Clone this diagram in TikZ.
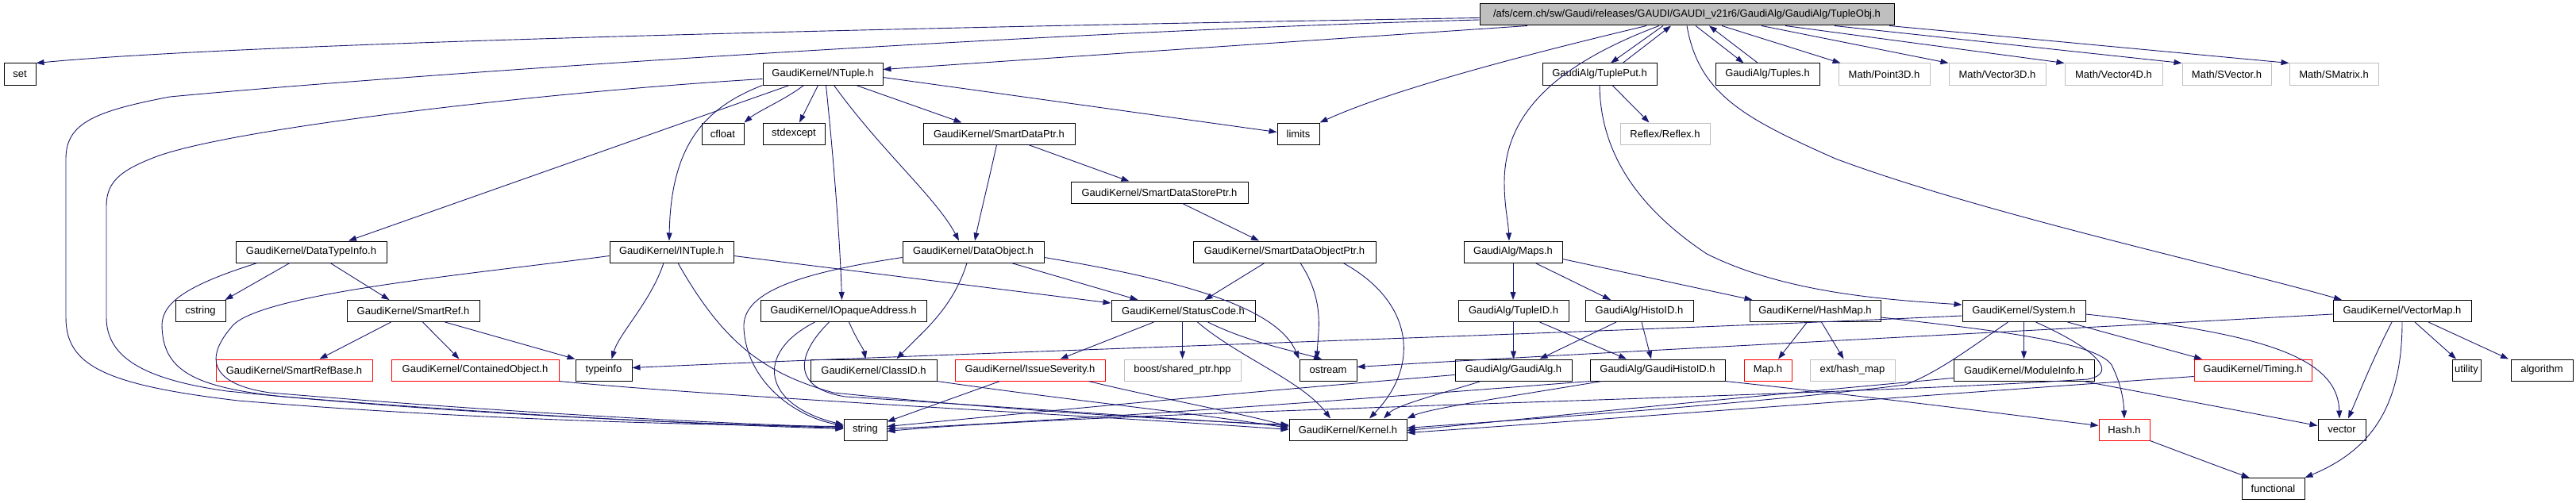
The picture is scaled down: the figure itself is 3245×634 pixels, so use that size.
\documentclass[tikz,border=0pt]{standalone}
\usepackage{fontspec}
\setmainfont{Liberation Sans}
\usetikzlibrary{arrows.meta}
\definecolor{edgec}{HTML}{191970}
\definecolor{greyb}{HTML}{BFBFBF}
\tikzset{
  nd/.style={draw=black, rectangle, minimum height=27pt, inner sep=0pt, line width=1pt, font=\fontsize{13}{15}\selectfont},
  ndred/.style={nd, draw=red},
  ndgrey/.style={nd, draw=greyb},
  e/.style={draw=edgec, line width=0.9pt, -{Triangle[length=10pt,width=7pt]}, fill=none}
}
\begin{document}
\begin{tikzpicture}[x=1pt,y=-1pt]
\useasboundingbox (0,0) rectangle (3245,634);
% row 1
\node[nd, fill=greyb, minimum width=522pt] (root) at (2125,18.5) {/afs/cern.ch/sw/Gaudi/releases/GAUDI/GAUDI\_v21r6/GaudiAlg/GaudiAlg/TupleObj.h};
% row 2
\node[nd, minimum width=40pt] (set) at (25,93.5) {set};
\node[nd, minimum width=151pt] (NTuple) at (1036.5,93.5) {GaudiKernel/NTuple.h};
\node[nd, minimum width=144pt] (TuplePut) at (2015,93.5) {GaudiAlg/TuplePut.h};
\node[nd, minimum width=131pt] (Tuples) at (2226.5,93.5) {GaudiAlg/Tuples.h};
\node[ndgrey, minimum width=115pt] (Point3D) at (2373.5,93.5) {Math/Point3D.h};
\node[ndgrey, minimum width=122pt] (Vector3D) at (2516,93.5) {Math/Vector3D.h};
\node[ndgrey, minimum width=123pt] (Vector4D) at (2662.5,93.5) {Math/Vector4D.h};
\node[ndgrey, minimum width=112pt] (SVector) at (2805,93.5) {Math/SVector.h};
\node[ndgrey, minimum width=112pt] (SMatrix) at (2940,93.5) {Math/SMatrix.h};
% row 3
\node[nd, minimum width=53pt] (cfloat) at (910.5,168.5) {cfloat};
\node[nd, minimum width=78pt] (stdexcept) at (1000,168.5) {stdexcept};
\node[nd, minimum width=191pt] (SmartDataPtr) at (1258.5,168.5) {GaudiKernel/SmartDataPtr.h};
\node[nd, minimum width=53pt] (limits) at (1635.5,168.5) {limits};
\node[ndgrey, minimum width=113pt] (Reflex) at (2097.5,168.5) {Reflex/Reflex.h};
\node[nd, minimum width=223pt] (SDSP) at (1460.5,242.5) {GaudiKernel/SmartDataStorePtr.h};
% row 4
\node[nd, minimum width=190pt] (DataTypeInfo) at (392,317.5) {GaudiKernel/DataTypeInfo.h};
\node[nd, minimum width=156pt] (INTuple) at (846,317.5) {GaudiKernel/INTuple.h};
\node[nd, minimum width=178pt] (DataObject) at (1226,317.5) {GaudiKernel/DataObject.h};
\node[nd, minimum width=230pt] (SDOP) at (1618,317.5) {GaudiKernel/SmartDataObjectPtr.h};
\node[nd, minimum width=124pt] (Maps) at (1906,317.5) {GaudiAlg/Maps.h};
% row 5
\node[nd, minimum width=63pt] (cstring) at (252.5,392) {cstring};
\node[nd, minimum width=167pt] (SmartRef) at (520.5,392) {GaudiKernel/SmartRef.h};
\node[nd, minimum width=209pt] (IOpaque) at (1062.5,392) {GaudiKernel/IOpaqueAddress.h};
\node[nd, minimum width=181pt] (StatusCode) at (1490.5,392) {GaudiKernel/StatusCode.h};
\node[nd, minimum width=139pt] (TupleID) at (1906.5,392) {GaudiAlg/TupleID.h};
\node[nd, minimum width=136pt] (HistoID) at (2065,392) {GaudiAlg/HistoID.h};
\node[nd, minimum width=165pt] (HashMap) at (2286.5,392) {GaudiKernel/HashMap.h};
\node[nd, minimum width=155pt] (System) at (2549.5,392) {GaudiKernel/System.h};
\node[nd, minimum width=174pt] (VectorMap) at (3026,392) {GaudiKernel/VectorMap.h};
% row 6
\node[ndred, minimum width=197pt] (SmartRefBase) at (370.5,466.5) {GaudiKernel/SmartRefBase.h};
\node[ndred, minimum width=211pt] (Contained) at (598.5,466.5) {GaudiKernel/ContainedObject.h};
\node[nd, minimum width=71pt] (typeinfo) at (760.5,466.5) {typeinfo};
\node[nd, minimum width=159pt] (ClassID) at (1100.5,466.5) {GaudiKernel/ClassID.h};
\node[ndred, minimum width=189pt] (Issue) at (1297.5,466.5) {GaudiKernel/IssueSeverity.h};
\node[ndgrey, minimum width=147pt] (boost) at (1489.5,466.5) {boost/shared\_ptr.hpp};
\node[nd, minimum width=72pt] (ostream) at (1673,466.5) {ostream};
\node[nd, minimum width=147pt] (GaudiAlg) at (1906.5,466.5) {GaudiAlg/GaudiAlg.h};
\node[nd, minimum width=170pt] (GHistoID) at (2088,466.5) {GaudiAlg/GaudiHistoID.h};
\node[ndred, minimum width=60pt] (Map) at (2227,466.5) {Map.h};
\node[ndgrey, minimum width=107pt] (exthash) at (2333.5,466.5) {ext/hash\_map};
\node[nd, minimum width=177pt] (ModuleInfo) at (2549.5,466.5) {GaudiKernel/ModuleInfo.h};
\node[ndred, minimum width=148pt] (Timing) at (2838,466.5) {GaudiKernel/Timing.h};
\node[nd, minimum width=36pt] (utility) at (3107,466.5) {utility};
\node[nd, minimum width=78pt] (algorithm) at (3202,466.5) {algorithm};
% row 7
\node[nd, minimum width=54pt] (string) at (1090,541.5) {string};
\node[nd, minimum width=148pt] (Kernel) at (1698,541.5) {GaudiKernel/Kernel.h};
\node[ndred, minimum width=64pt] (Hash) at (2676,541.5) {Hash.h};
\node[nd, minimum width=60pt] (vector) at (2950,541.5) {vector};
% row 8
\node[nd, minimum width=79pt] (functional) at (2863.5,616) {functional};

% ===== edges from root
\draw[e] ([yshift=-4pt]root.west) .. controls (1100,35) and (300,55) .. (set.north east);
\draw[e] ([yshift=-6.5pt]root.west) .. controls (1300,40) and (500,95) .. (214,122) .. controls (120,140) and (83,155) .. (83,200) -- (83,400) .. controls (83,460) and (130,485) .. (300,505) .. controls (600,530) and (900,536) .. ([yshift=4pt]string.west);
\draw[e] ([xshift=-201pt]root.south) -- ([yshift=6pt]NTuple.east);
\draw[e] ([xshift=-51pt]root.south) .. controls (1950,62) and (1760,110) .. (limits.north east);
\draw[e] ([xshift=-35pt]root.south) .. controls (1950,85) and (1895,150) .. (1895,230) .. controls (1895,260) and (1900,280) .. ([xshift=-5pt]Maps.north);
\draw[e] ([xshift=-30pt]root.south) -- ([xshift=14pt]TuplePut.north);
\draw[e] ([xshift=29pt]TuplePut.north) -- ([xshift=-20pt]root.south);
\draw[e] ([xshift=11pt]root.south) -- ([xshift=-30pt]Tuples.north);
\draw[e] ([xshift=-12pt]Tuples.north) -- ([xshift=28pt]root.south);
\draw[e] ([xshift=44pt]root.south) -- ([xshift=-55pt]Point3D.north);
\draw[e] ([xshift=94pt]root.south) -- (Vector3D.north west);
\draw[e] ([xshift=124pt]root.south) -- (Vector4D.north west);
\draw[e] ([xshift=186pt]root.south) -- (SVector.north west);
\draw[e] ([xshift=255pt]root.south) -- (SMatrix.north west);
\draw[e] (root.south) .. controls (2140,120) and (2200,150) .. (2312,200) .. controls (2500,270) and (2800,335) .. ([xshift=-76pt]VectorMap.north);
% TuplePut
\draw[e] (TuplePut.south) .. controls (2016,190) and (2060,260) .. (2150,320) .. controls (2250,370) and (2380,378) .. ([yshift=8pt]System.west);
\draw[e] ([xshift=16pt]TuplePut.south) -- ([xshift=-20pt]Reflex.north);
% NTuple
\draw[e] ([xshift=-24pt]NTuple.south) .. controls (990,125) and (955,140) .. ([xshift=27pt]cfloat.north);
\draw[e] ([xshift=-6pt]NTuple.south) -- ([xshift=7pt]stdexcept.north);
\draw[e] ([xshift=42pt]NTuple.south) -- ([xshift=-47pt]SmartDataPtr.north);
\draw[e] ([yshift=-4pt]NTuple.east) -- ([yshift=2pt]limits.west);
\draw[e] ([xshift=-42pt]NTuple.south) -- ([xshift=47pt]DataTypeInfo.north);
\draw[e] (NTuple.south west) .. controls (890,135) and (845,180) .. ([xshift=-3pt]INTuple.north);
\draw[e] ([xshift=4pt]NTuple.south) .. controls (1050,200) and (1058,300) .. ([xshift=-2pt]IOpaque.north);
\draw[e] ([xshift=14pt]NTuple.south) .. controls (1110,190) and (1180,250) .. ([xshift=-18pt]DataObject.north);
\draw[e] ([yshift=-6pt]NTuple.west) .. controls (700,115) and (300,160) .. (198,197) .. controls (150,215) and (134,230) .. (134,260) -- (134,400) .. controls (134,450) and (180,478) .. (286,493) .. controls (600,525) and (900,534) .. ([yshift=2pt]string.west);
% SmartDataPtr chain
\draw[e] ([xshift=-3pt]SmartDataPtr.south) .. controls (1245,230) and (1235,270) .. ([xshift=2pt]DataObject.north);
\draw[e] ([xshift=37pt]SmartDataPtr.south) -- ([xshift=-38pt]SDSP.north);
\draw[e] ([xshift=29pt]SDSP.south) -- ([xshift=-32pt]SDOP.north);
\draw[e] ([xshift=-25pt]SDOP.south) -- ([xshift=27pt]StatusCode.north);
\draw[e] ([xshift=20pt]SDOP.south) .. controls (1670,380) and (1660,420) .. ([xshift=-14pt]ostream.north);
\draw[e] ([xshift=74pt]SDOP.south) .. controls (1780,380) and (1790,460) .. ([xshift=27pt]Kernel.north);
% DataObject
\draw[e] ([xshift=48pt]DataObject.south) -- ([xshift=-57pt]StatusCode.north);
\draw[e] ([xshift=-8pt]DataObject.south) .. controls (1200,390) and (1160,420) .. ([xshift=29pt]ClassID.north);
\draw[e] ([yshift=-7pt]DataObject.west) .. controls (1000,345) and (935,370) .. (937,413) .. controls (940,480) and (1000,525) .. ([yshift=5pt]string.west);
\draw[e] ([yshift=-7pt]DataObject.east) .. controls (1500,355) and (1610,390) .. (ostream.north west);
% StatusCode
\draw[e] ([xshift=-37pt]StatusCode.south) -- ([xshift=38pt]Issue.north);
\draw[e] ([xshift=-1pt]StatusCode.south) -- (boost.north);
\draw[e] ([xshift=31pt]StatusCode.south) .. controls (1570,430) and (1620,440) .. ([xshift=-8pt]ostream.north);
\draw[e] ([xshift=18pt]StatusCode.south) .. controls (1560,450) and (1640,480) .. ([xshift=-22pt]Kernel.north);
% INTuple
\draw[e] ([yshift=-5pt]INTuple.east) -- ([yshift=10pt]StatusCode.west);
\draw[e] ([xshift=-10pt]INTuple.south) .. controls (820,380) and (780,420) .. ([xshift=10pt]typeinfo.north);
\draw[e] ([xshift=8pt]INTuple.south) .. controls (910,430) and (960,470) .. (1050,495) .. controls (1300,520) and (1500,530) .. ([yshift=6pt]Kernel.west);
\draw[e] ([yshift=-5pt]INTuple.west) .. controls (600,345) and (320,370) .. (291,413) .. controls (255,455) and (270,485) .. (340,495) .. controls (700,525) and (950,535) .. ([yshift=3pt]string.west);
% DataTypeInfo
\draw[e] ([xshift=-27pt]DataTypeInfo.south) -- ([xshift=31pt]cstring.north);
\draw[e] ([xshift=24pt]DataTypeInfo.south) -- ([xshift=-30pt]SmartRef.north);
\draw[e] ([xshift=-68pt]DataTypeInfo.south) .. controls (240,358) and (204,380) .. (204,410) .. controls (205,465) and (240,488) .. (357,500) .. controls (700,528) and (950,537) .. ([yshift=1pt]string.west);
% SmartRef
\draw[e] ([xshift=-28pt]SmartRef.south) -- ([xshift=32pt]SmartRefBase.north);
\draw[e] ([xshift=12pt]SmartRef.south) -- ([xshift=-20pt]Contained.north);
\draw[e] ([xshift=40pt]SmartRef.south) -- (typeinfo.north west);
% IOpaqueAddress
\draw[e] ([xshift=7pt]IOpaque.south) .. controls (1080,430) and (1088,440) .. ([xshift=-10pt]ClassID.north);
\draw[e] ([xshift=-36pt]IOpaque.south) .. controls (950,445) and (960,510) .. ([yshift=6pt]string.west);
\draw[e] ([xshift=-18pt]IOpaque.south) .. controls (1000,450) and (1000,490) .. (1065,500) .. controls (1300,515) and (1500,530) .. ([yshift=5pt]Kernel.west);
% IssueSeverity, ClassID, ContainedObject
\draw[e] ([xshift=-38pt]Issue.south) -- ([yshift=10pt]string.east);
\draw[e] ([xshift=74pt]Issue.south) .. controls (1450,500) and (1560,520) .. ([yshift=4pt]Kernel.west);
\draw[e] (ClassID.south east) .. controls (1350,505) and (1500,520) .. ([yshift=2pt]Kernel.west);
\draw[e] (Contained.south east) .. controls (900,500) and (1400,525) .. (Kernel.west);
% Maps
\draw[e] (Maps.south) -- ([xshift=-0.5pt]TupleID.north);
\draw[e] ([xshift=28pt]Maps.south) -- ([xshift=-36pt]HistoID.north);
\draw[e] ([yshift=-9pt]Maps.east) -- ([xshift=-79pt]HashMap.north);
% TupleID / HistoID
\draw[e] (TupleID.south) -- (GaudiAlg.north);
\draw[e] ([xshift=33pt]TupleID.south) -- ([xshift=-39pt]GHistoID.north);
\draw[e] ([xshift=-29pt]HistoID.south) -- ([xshift=33pt]GaudiAlg.north);
\draw[e] ([xshift=3pt]HistoID.south) -- ([xshift=-8pt]GHistoID.north);
% HashMap
\draw[e] ([xshift=-10pt]HashMap.south) -- ([xshift=13pt]Map.north);
\draw[e] ([xshift=8pt]HashMap.south) -- ([xshift=-11pt]exthash.north);
\draw[e] ([yshift=-8pt]HashMap.east) .. controls (2500,415) and (2640,430) .. (2660,460) .. controls (2670,480) and (2675,500) .. (Hash.north);
% GaudiAlg, GaudiHistoID
\draw[e] ([xshift=-41pt]GaudiAlg.south) .. controls (1820,495) and (1760,510) .. ([xshift=45pt]Kernel.north);
\draw[e] ([yshift=-6pt]GaudiAlg.west) .. controls (1500,500) and (1250,525) .. ([yshift=4pt]string.east);
\draw[e] ([xshift=-70pt]GHistoID.south) .. controls (1900,500) and (1800,515) .. (Kernel.north east);
\draw[e] (GHistoID.south west) .. controls (1600,512) and (1300,532) .. ([yshift=1pt]string.east);
\draw[e] (GHistoID.south east) .. controls (2400,505) and (2550,525) .. ([yshift=5pt]Hash.west);
% System
\draw[e] (System.south) -- (ModuleInfo.north);
\draw[e] ([xshift=55pt]System.south) -- ([xshift=-64pt]Timing.north);
\draw[e] ([yshift=-4pt]System.east) .. controls (2850,420) and (2945,450) .. ([xshift=-3pt]vector.north);
\draw[e] ([yshift=-6pt]System.west) .. controls (2000,420) and (1200,445) .. ([yshift=3pt]typeinfo.east);
\draw[e] ([xshift=-20pt]System.south) .. controls (2480,440) and (2440,470) .. (2400,485) .. controls (2200,510) and (1900,530) .. ([yshift=2pt]Kernel.east);
\draw[e] ([xshift=15pt]System.south) .. controls (2640,440) and (2670,470) .. (2630,478) .. controls (2300,500) and (1400,518) .. ([yshift=-2pt]string.east);
% ModuleInfo, Timing
\draw[e] ([yshift=-10pt]ModuleInfo.west) .. controls (2200,500) and (1950,525) .. ([yshift=-1pt]Kernel.east);
\draw[e] ([xshift=75pt]ModuleInfo.south) -- ([yshift=5pt]vector.west);
\draw[e] ([yshift=-8pt]Timing.west) .. controls (2400,500) and (2000,530) .. ([yshift=-4pt]Kernel.east);
% VectorMap
\draw[e] ([xshift=-13pt]VectorMap.south) .. controls (2990,450) and (2970,500) .. ([xshift=8pt]vector.north);
\draw[e] (VectorMap.south) .. controls (3026,520) and (2980,570) .. (functional.north east);
\draw[e] ([xshift=16pt]VectorMap.south) -- ([xshift=-13pt]utility.north);
\draw[e] ([xshift=33pt]VectorMap.south) -- ([xshift=-42pt]algorithm.north);
\draw[e] ([yshift=-4pt]VectorMap.west) .. controls (2500,420) and (2000,445) .. ([yshift=4pt]ostream.east);
% Hash
\draw[e] (Hash.south east) .. controls (2760,575) and (2800,590) .. ([xshift=-30pt]functional.north);
\end{tikzpicture}
\end{document}
